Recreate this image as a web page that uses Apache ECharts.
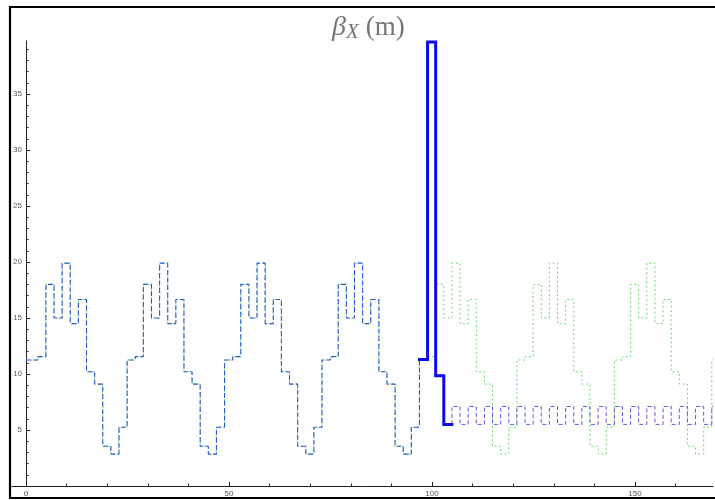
<!DOCTYPE html>
<html>
<head>
<meta charset="utf-8">
<script src="https://cdn.jsdelivr.net/npm/echarts@6/dist/echarts.min.js"></script>
<style>
  html, body { margin: 0; padding: 0; background: #fff; }
  #chart { width: 715px; height: 500px; }
</style>
</head>
<body>
<div id="chart"></div>
<script>
// periodic lattice (green dotted, whole line), s in m / beta in m
var periodicS = [0, 2.9, 4.9, 6.9, 8.9, 10.9, 12.9, 14.9, 16.9, 18.9, 20.9, 22.9,
    24.9, 26.9, 28.9, 30.9, 32.9, 34.9, 36.9, 38.9, 40.9, 42.9, 44.9, 46.9,
    48.9, 50.9, 52.9, 54.9, 56.9, 58.9, 60.9, 62.9, 64.9, 66.9, 68.9, 70.9,
    72.9, 74.9, 76.9, 78.9, 80.9, 82.9, 84.9, 86.9, 88.9, 90.9, 92.9, 94.9,
    96.9, 98.9, 100.9, 102.9, 104.9, 106.9, 108.9, 110.9, 112.9, 114.9, 116.9, 118.9,
    120.9, 122.9, 124.9, 126.9, 128.9, 130.9, 132.9, 134.9, 136.9, 138.9, 140.9, 142.9,
    144.9, 146.9, 148.9, 150.9, 152.9, 154.9, 156.9, 158.9, 160.9, 162.9, 164.9, 166.9,
    168.9, 169.2];
var periodicBeta = [11.25, 11.55, 18.0, 15.0, 19.9, 14.5, 16.65, 10.2, 9.1, 3.55, 2.85, 5.25,
    11.25, 11.55, 18.0, 15.0, 19.9, 14.5, 16.65, 10.2, 9.1, 3.55, 2.85, 5.25,
    11.25, 11.55, 18.0, 15.0, 19.9, 14.5, 16.65, 10.2, 9.1, 3.55, 2.85, 5.25,
    11.25, 11.55, 18.0, 15.0, 19.9, 14.5, 16.65, 10.2, 9.1, 3.55, 2.85, 5.25,
    11.25, 11.55, 18.0, 15.0, 19.9, 14.5, 16.65, 10.2, 9.1, 3.55, 2.85, 5.25,
    11.25, 11.55, 18.0, 15.0, 19.9, 14.5, 16.65, 10.2, 9.1, 3.55, 2.85, 5.25,
    11.25, 11.55, 18.0, 15.0, 19.9, 14.5, 16.65, 10.2, 9.1, 3.55, 2.85, 5.25,
    11.25, 11.25];

// matched line before the insertion (blue dashed)
var matchedS = [0, 2.9, 4.9, 6.9, 8.9, 10.9, 12.9, 14.9, 16.9, 18.9, 20.9, 22.9,
    24.9, 26.9, 28.9, 30.9, 32.9, 34.9, 36.9, 38.9, 40.9, 42.9, 44.9, 46.9,
    48.9, 50.9, 52.9, 54.9, 56.9, 58.9, 60.9, 62.9, 64.9, 66.9, 68.9, 70.9,
    72.9, 74.9, 76.9, 78.9, 80.9, 82.9, 84.9, 86.9, 88.9, 90.9, 92.9, 94.9,
    96.9];
var matchedBeta = [11.25, 11.55, 18.0, 15.0, 19.9, 14.5, 16.65, 10.2, 9.1, 3.55, 2.85, 5.25,
    11.25, 11.55, 18.0, 15.0, 19.9, 14.5, 16.65, 10.2, 9.1, 3.55, 2.85, 5.25,
    11.25, 11.55, 18.0, 15.0, 19.9, 14.5, 16.65, 10.2, 9.1, 3.55, 2.85, 5.25,
    11.25, 11.55, 18.0, 15.0, 19.9, 14.5, 16.65, 10.2, 9.1, 3.55, 2.85, 5.25,
    11.25];

// insertion (thick blue)
var insertS = [96.9, 98.9, 100.9, 102.9, 104.9];
var insertBeta = [11.3, 39.65, 9.85, 5.5, 5.5];

// small cells after the insertion (purple dashed)
var smallS = [104.9, 104.9, 106.9, 108.9, 110.9, 112.9, 114.9, 116.9, 118.9, 120.9, 122.9,
    124.9, 126.9, 128.9, 130.9, 132.9, 134.9, 136.9, 138.9, 140.9, 142.9, 144.9,
    146.9, 148.9, 150.9, 152.9, 154.9, 156.9, 158.9, 160.9, 162.9, 164.9, 166.9,
    168.9, 169.2];
var smallBeta = [5.5, 7.1, 5.5, 7.1, 5.5, 7.1, 5.5, 7.1, 5.5, 7.1, 5.5,
    7.1, 5.5, 7.1, 5.5, 7.1, 5.5, 7.1, 5.5, 7.1, 5.5, 7.1,
    5.5, 7.1, 5.5, 7.1, 5.5, 7.1, 5.5, 7.1, 5.5, 7.1, 5.5,
    7.1, 7.1];

var xMajor = [0, 50, 100, 150];
var xMinor = [10, 20, 30, 40, 60, 70, 80, 90, 110, 120, 130, 140, 160];
var yMajor = [5, 10, 15, 20, 25, 30, 35];
var yMinor = [1, 2, 3, 4, 6, 7, 8, 9, 11, 12, 13, 14, 16, 17, 18, 19, 21, 22, 23, 24,
    26, 27, 28, 29, 31, 32, 33, 34, 36, 37, 38, 39];

function pairs(xs, ys) {
    return xs.map(function (x, i) { return [x, ys[i]]; });
}

var chart = echarts.init(document.getElementById('chart'), null, { renderer: 'canvas' });

var axisColor = '#222';
var labelStyle = { fontSize: 8, color: '#555', fontFamily: 'Liberation Sans' };
var xMin = -3.5, xMax = 169.2;
var gridLeft = 11.8, gridRight = 2;
// the y axis sits at s = 0, a little right of the grid's left edge
var yAxisShift = -(0 - xMin) * (715 - gridLeft - gridRight) / (xMax - xMin);

function xAxisOf(major) {
    return {
        type: 'value', min: xMin, max: xMax, position: 'bottom',
        axisLine: { show: major, onZero: false, lineStyle: { color: axisColor, width: 1 } },
        axisTick: { show: true, inside: true, length: major ? 4 : 2.5,
            customValues: major ? xMajor : xMinor, lineStyle: { color: axisColor } },
        axisLabel: major ? Object.assign({ margin: 4, customValues: xMajor }, labelStyle) : { show: false },
        splitLine: { show: false }
    };
}
function yAxisOf(major) {
    return {
        type: 'value', min: 0, max: 39.75, position: 'left', offset: yAxisShift,
        axisLine: { show: major, onZero: false, lineStyle: { color: axisColor, width: 1 } },
        axisTick: { show: true, inside: true, length: major ? 4 : 2.5,
            customValues: major ? yMajor : yMinor, lineStyle: { color: axisColor } },
        axisLabel: major ? Object.assign({ margin: 4, customValues: yMajor }, labelStyle) : { show: false },
        splitLine: { show: false }
    };
}

var titleFont = { fontFamily: 'Liberation Serif', fontWeight: 'normal', color: '#747474' };

var option = {
    animation: false,
    backgroundColor: '#fff',
    title: {
        left: 327, top: 8,
        text: '{g|β}{s|X}{n|(m)}',
        textStyle: {
            fontWeight: 'normal',
            rich: {
                g: Object.assign({ fontStyle: 'italic', fontSize: 28, lineHeight: 30 }, titleFont),
                s: Object.assign({ fontStyle: 'italic', fontSize: 21, lineHeight: 19, verticalAlign: 'bottom' }, titleFont),
                n: Object.assign({ fontSize: 27, lineHeight: 30, padding: [0, 0, 0, 7] }, titleFont)
            }
        }
    },
    grid: { left: gridLeft, right: gridRight, top: 40.8, bottom: 14, containLabel: false, outerBoundsMode: 'none' },
    xAxis: [xAxisOf(true), xAxisOf(false)],
    yAxis: [yAxisOf(true), yAxisOf(false)],
    graphic: [{
        type: 'rect', silent: true, z: 100,
        shape: { x: 10, y: 7, width: 720, height: 491 },
        style: { fill: 'none', stroke: '#000', lineWidth: 2.2 }
    }],
    series: [
        {
            name: 'periodic', type: 'line', step: 'end', showSymbol: false,
            data: pairs(periodicS, periodicBeta),
            lineStyle: { color: '#66dd66', width: 1, type: [2, 2.5] }, z: 2
        },
        {
            name: 'small cells', type: 'line', step: 'end', showSymbol: false,
            data: pairs(smallS, smallBeta),
            lineStyle: { color: '#5c5cd8', width: 1, type: [4, 2.5] }, z: 3
        },
        {
            name: 'matched', type: 'line', step: 'end', showSymbol: false,
            data: pairs(matchedS, matchedBeta),
            lineStyle: { color: '#2f55d4', width: 1.1, type: [5, 2.5] }, z: 4
        },
        {
            name: 'insertion', type: 'line', step: 'end', showSymbol: false,
            data: pairs(insertS, insertBeta),
            lineStyle: { color: '#0a0ae6', width: 3, cap: 'square', join: 'miter' }, z: 5
        }
    ]
};

chart.setOption(option);
</script>
</body>
</html>
